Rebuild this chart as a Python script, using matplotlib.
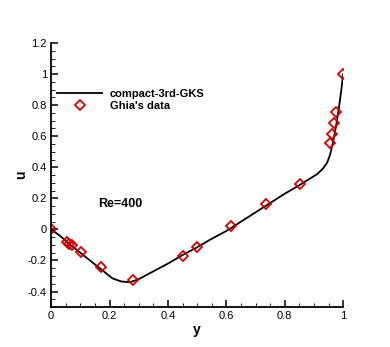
import matplotlib.pyplot as plt
import numpy as np
from matplotlib.ticker import MultipleLocator

plt.rcParams['font.family'] = ['Liberation Sans', 'DejaVu Sans']

# compact-3rd-GKS curve
gks_y = [0.0, 0.03, 0.06, 0.1, 0.14, 0.18, 0.21, 0.24, 0.27, 0.3, 0.35, 0.4,
         0.45, 0.5, 0.55, 0.6, 0.65, 0.7, 0.75, 0.8, 0.85, 0.88, 0.91, 0.93,
         0.945, 0.955, 0.965, 0.975, 0.985, 0.993, 1.0]
gks_u = [0.0, -0.04, -0.09, -0.15, -0.21, -0.27, -0.315, -0.335, -0.34, -0.32,
         -0.27, -0.22, -0.165, -0.115, -0.06, -0.01, 0.05, 0.11, 0.17, 0.23,
         0.285, 0.32, 0.355, 0.39, 0.43, 0.48, 0.56, 0.66, 0.78, 0.89, 1.0]

# Ghia et al. data, Re=400
ghia_y = [1.0, 0.9766, 0.9688, 0.9609, 0.9531, 0.8516, 0.7344, 0.6172, 0.5,
          0.4531, 0.2813, 0.1719, 0.1016, 0.0703, 0.0625, 0.0547, 0.0]
ghia_u = [1.0, 0.75837, 0.68439, 0.61756, 0.55892, 0.29093, 0.16256, 0.02135,
          -0.11477, -0.17119, -0.32726, -0.24299, -0.14612, -0.10338,
          -0.09266, -0.08186, 0.0]

fig = plt.figure(figsize=(3.9, 3.47), dpi=100)
ax = fig.add_axes([0.131, 0.115, 0.749, 0.761])

ax.plot(gks_y, gks_u, color='black', lw=1.3, label='compact-3rd-GKS')
ax.plot(ghia_y, ghia_u, ls='none', marker='D', ms=5.5, mfc='none',
        mec='#d40000', mew=1.3, label="Ghia's data")

ax.set_xlim(0, 1)
ax.set_ylim(-0.5, 1.2)
ax.xaxis.set_major_locator(MultipleLocator(0.2))
ax.xaxis.set_minor_locator(MultipleLocator(0.05))
ax.yaxis.set_major_locator(MultipleLocator(0.2))
ax.yaxis.set_minor_locator(MultipleLocator(0.05))

def fmt(v, pos):
    s = '%g' % round(v, 2)
    return '0' if s in ('0', '-0') else s
ax.xaxis.set_major_formatter(plt.FuncFormatter(fmt))
ax.yaxis.set_major_formatter(plt.FuncFormatter(fmt))

for s in ('top', 'right'):
    ax.spines[s].set_visible(False)
for s in ('left', 'bottom'):
    ax.spines[s].set_linewidth(1.3)
ax.tick_params(which='major', direction='in', length=5, width=1.1, labelsize=8, pad=3)
ax.tick_params(which='minor', direction='in', length=3, width=0.6)

ax.set_xlabel('y', fontsize=10, fontweight='bold', labelpad=1)
ax.set_ylabel('u', fontsize=10, fontweight='bold', labelpad=0)

ax.text(0.162, 0.165, 'Re=400', fontsize=9, fontweight='bold', va='center')

ax.legend(loc='upper left', bbox_to_anchor=(-0.013, 0.865), frameon=False,
          prop={'weight': 'bold', 'size': 8}, handlelength=4.0,
          handletextpad=0.7, labelspacing=0.2)

fig.savefig('out.png', dpi=100)
